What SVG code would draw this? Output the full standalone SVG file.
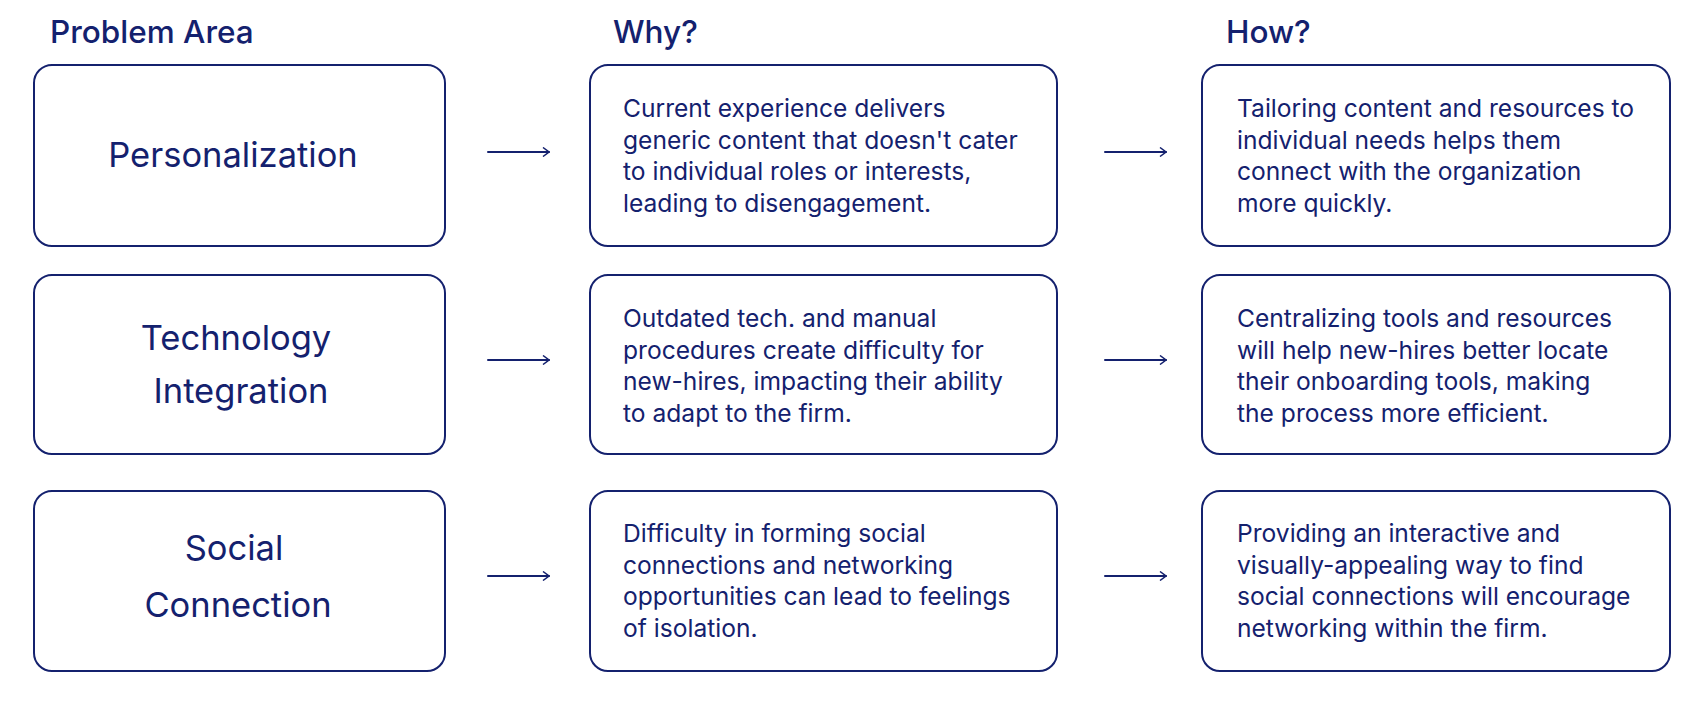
<svg xmlns="http://www.w3.org/2000/svg" width="1704" height="702" viewBox="0 0 1704 702">
<defs>
<style>
.box{fill:#fff;stroke:#14216e;stroke-width:2}
.hdr{font-family:Inter,"Liberation Sans",sans-serif;font-size:31.5px;font-weight:500;fill:#14216e}
.lbl{font-family:Inter,"Liberation Sans",sans-serif;font-size:34.5px;fill:#14216e;text-anchor:middle}
.txt{font-family:Inter,"Liberation Sans",sans-serif;font-size:24.6px;fill:#14216e}
.arr{fill:none;stroke:#14216e;stroke-width:2;stroke-linecap:round;stroke-linejoin:round}
</style>
<marker id="chev" viewBox="0 0 10 10" refX="9" refY="5" markerWidth="10" markerHeight="10" markerUnits="userSpaceOnUse" orient="auto">
<path d="M3,0.5 L9,5 L3,9.5" fill="none" stroke="#14216e" stroke-width="1.5"/>
</marker>
</defs>
<rect width="1704" height="702" fill="#fff"/>
<g id="headers">
<text class="hdr" x="50" y="43">Problem Area</text>
<text class="hdr" x="613" y="43">Why?</text>
<text class="hdr" x="1226" y="43">How?</text>
</g>
<g id="p1">
<rect class="box" x="34" y="65" width="411" height="181" rx="18"/>
<text class="lbl" x="233" y="167">Personalization</text>
</g>
<g id="p2">
<rect class="box" x="34" y="275" width="411" height="179" rx="18"/>
<text class="lbl" x="236" y="350">Technology</text>
<text class="lbl" x="241" y="403">Integration</text>
</g>
<g id="p3">
<rect class="box" x="34" y="491" width="411" height="180" rx="18"/>
<text class="lbl" x="234" y="560">Social</text>
<text class="lbl" x="238" y="617">Connection</text>
</g>
<g id="w1">
<rect class="box" x="590" y="65" width="467" height="181" rx="18"/>
<text class="txt" x="623" y="117">Current experience delivers</text>
<text class="txt" x="623" y="149">generic content that doesn't cater</text>
<text class="txt" x="623" y="180">to individual roles or interests,</text>
<text class="txt" x="623" y="212">leading to disengagement.</text>
</g>
<g id="w2">
<rect class="box" x="590" y="275" width="467" height="179" rx="18"/>
<text class="txt" x="623" y="327">Outdated tech. and manual</text>
<text class="txt" x="623" y="359">procedures create difficulty for</text>
<text class="txt" x="623" y="390">new-hires, impacting their ability</text>
<text class="txt" x="623" y="422">to adapt to the firm.</text>
</g>
<g id="w3">
<rect class="box" x="590" y="491" width="467" height="180" rx="18"/>
<text class="txt" x="623" y="542">Difficulty in forming social</text>
<text class="txt" x="623" y="574">connections and networking</text>
<text class="txt" x="623" y="605">opportunities can lead to feelings</text>
<text class="txt" x="623" y="637">of isolation.</text>
</g>
<g id="h1">
<rect class="box" x="1202" y="65" width="468" height="181" rx="18"/>
<text class="txt" x="1237" y="117">Tailoring content and resources to</text>
<text class="txt" x="1237" y="149">individual needs helps them</text>
<text class="txt" x="1237" y="180">connect with the organization</text>
<text class="txt" x="1237" y="212">more quickly.</text>
</g>
<g id="h2">
<rect class="box" x="1202" y="275" width="468" height="179" rx="18"/>
<text class="txt" x="1237" y="327">Centralizing tools and resources</text>
<text class="txt" x="1237" y="359">will help new-hires better locate</text>
<text class="txt" x="1237" y="390">their onboarding tools, making</text>
<text class="txt" x="1237" y="422">the process more efficient.</text>
</g>
<g id="h3">
<rect class="box" x="1202" y="491" width="468" height="180" rx="18"/>
<text class="txt" x="1237" y="542">Providing an interactive and</text>
<text class="txt" x="1237" y="574">visually-appealing way to find</text>
<text class="txt" x="1237" y="605">social connections will encourage</text>
<text class="txt" x="1237" y="637">networking within the firm.</text>
</g>
<g id="connectors">
<line class="arr" x1="488" y1="152" x2="549" y2="152" marker-end="url(#chev)"/>
<line class="arr" x1="488" y1="360" x2="549" y2="360" marker-end="url(#chev)"/>
<line class="arr" x1="488" y1="576" x2="549" y2="576" marker-end="url(#chev)"/>
<line class="arr" x1="1105" y1="152" x2="1166" y2="152" marker-end="url(#chev)"/>
<line class="arr" x1="1105" y1="360" x2="1166" y2="360" marker-end="url(#chev)"/>
<line class="arr" x1="1105" y1="576" x2="1166" y2="576" marker-end="url(#chev)"/>
</g>
</svg>
